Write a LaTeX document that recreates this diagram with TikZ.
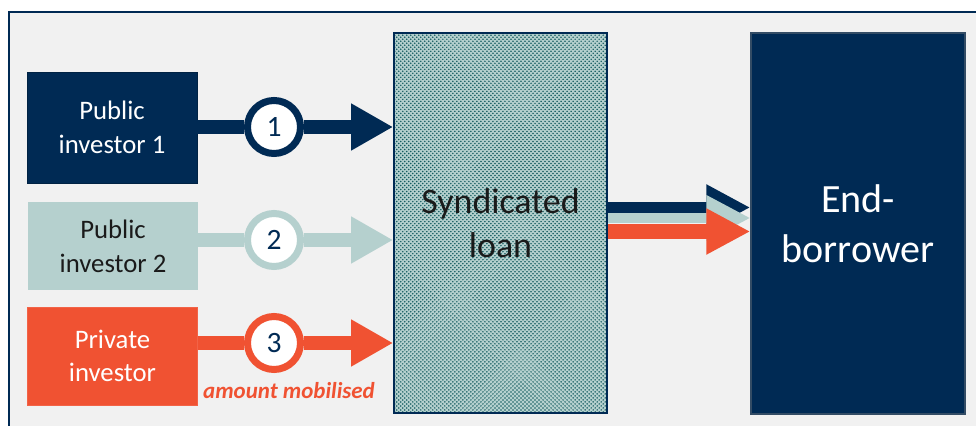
\documentclass[tikz,border=0pt]{standalone}
\usepackage{fontspec}
\setmainfont{Carlito}
\usetikzlibrary{arrows.meta,patterns}

\definecolor{navy}{RGB}{0,42,84}
\definecolor{paleteal}{RGB}{181,208,206}
\definecolor{flame}{RGB}{240,82,50}
\definecolor{panel}{RGB}{241,241,241}
\definecolor{dotteal}{RGB}{20,92,96}
\definecolor{ink}{RGB}{26,26,26}

% fine staggered dots for the loan box
\pgfdeclarepatternformonly{loandots}{\pgfqpoint{-1pt}{-1pt}}{\pgfqpoint{3.85pt}{3.85pt}}{\pgfqpoint{2.85pt}{2.85pt}}{%
  \pgfpathcircle{\pgfqpoint{0pt}{0pt}}{0.6pt}
  \pgfpathcircle{\pgfqpoint{1.425pt}{1.425pt}}{0.6pt}
  \pgfusepath{fill}}

\tikzset{
  investor/.style={rectangle, minimum width=4.25cm, inner sep=0pt, align=center,
    font=\fontsize{19}{24}\selectfont},
  badge/.style={circle, fill=white, line width=0.175cm, minimum size=1.325cm,
    inner sep=0pt, text=navy, font=\fontsize{21}{21}\selectfont},
  shaft/.style={line width=0.35cm},
  flow/.style={line width=0.35cm, -{Triangle[length=1.05cm,width=1.1cm]}},
  feed/.style={-{Triangle[length=1.1cm,width=1.075cm]}}
}

\begin{document}
\begin{tikzpicture}[x=0.025cm, y=-0.025cm]
                \useasboundingbox (0,0) rectangle (976,426);
                \clip (0,0) rectangle (976,426);
                \fill[white] (0,0) rectangle (976,426);
                \draw[navy, fill=panel, line width=0.05cm] (9,12) rectangle (1000,450);

                % Nodes
                \node[investor, fill=navy, draw=navy!80!black, text=white, minimum height=2.775cm] (pub1) at (112,127.5) {Public\\investor 1};
                \node[investor, fill=paleteal, text=ink, minimum height=2.2cm] (pub2) at (113,246) {Public\\investor 2};
                \node[investor, fill=flame, draw=flame!90!white, text=white, minimum height=2.45cm] (priv) at (112.5,356) {Private\\investor};
                \node[rectangle, preaction={fill=paleteal}, pattern=loandots, pattern color=dotteal,
                      draw=navy, line width=0.04cm, minimum width=5.325cm, minimum height=9.5cm,
                      align=center, text=ink, font=\fontsize{25.5}{31}\selectfont] (loan) at (500.5,223) {Syndicated\\loan};
                \node[rectangle, fill=navy, draw=navy!60!gray, line width=0.03cm, minimum width=5.35cm, minimum height=9.525cm,
                      align=center, text=white, font=\fontsize{28.5}{35.5}\selectfont] (borrower) at (858,223.5) {End-\\borrower};
                \node[badge, draw=navy] (c1) at (274,127) {1};
                \node[badge, draw=paleteal] (c2) at (274,240) {2};
                \node[badge, draw=flame] (c3) at (274,343) {3};
                \node[text=flame, font=\fontsize{16.3}{16.3}\selectfont\bfseries\itshape] (mob) at (289,391) {amount mobilised};

                % Edges
                \draw[shaft, navy] (pub1.east |- c1) -- (c1);
                \draw[flow, navy] (c1) -- (c1 -| loan.west);
                \draw[shaft, paleteal] (pub2.east |- c2) -- (c2);
                \draw[flow, paleteal] (c2) -- (c2 -| loan.west);
                \draw[shaft, flame] (priv.east |- c3) -- (c3);
                \draw[flow, flame] (c3) -- (c3 -| loan.west);

                \draw[feed, navy, line width=0.275cm] ([yshift=0.3875cm]loan.east) -- ([yshift=0.3875cm]loan.east -| borrower.west);
                \draw[feed, paleteal, line width=0.25cm] ([yshift=0.125cm]loan.east) -- ([yshift=0.125cm]loan.east -| borrower.west);
                \draw[feed, flame, line width=0.375cm] ([yshift=-0.2125cm]loan.east) -- ([yshift=-0.2125cm]loan.east -| borrower.west);
            \end{tikzpicture}
\end{document}
